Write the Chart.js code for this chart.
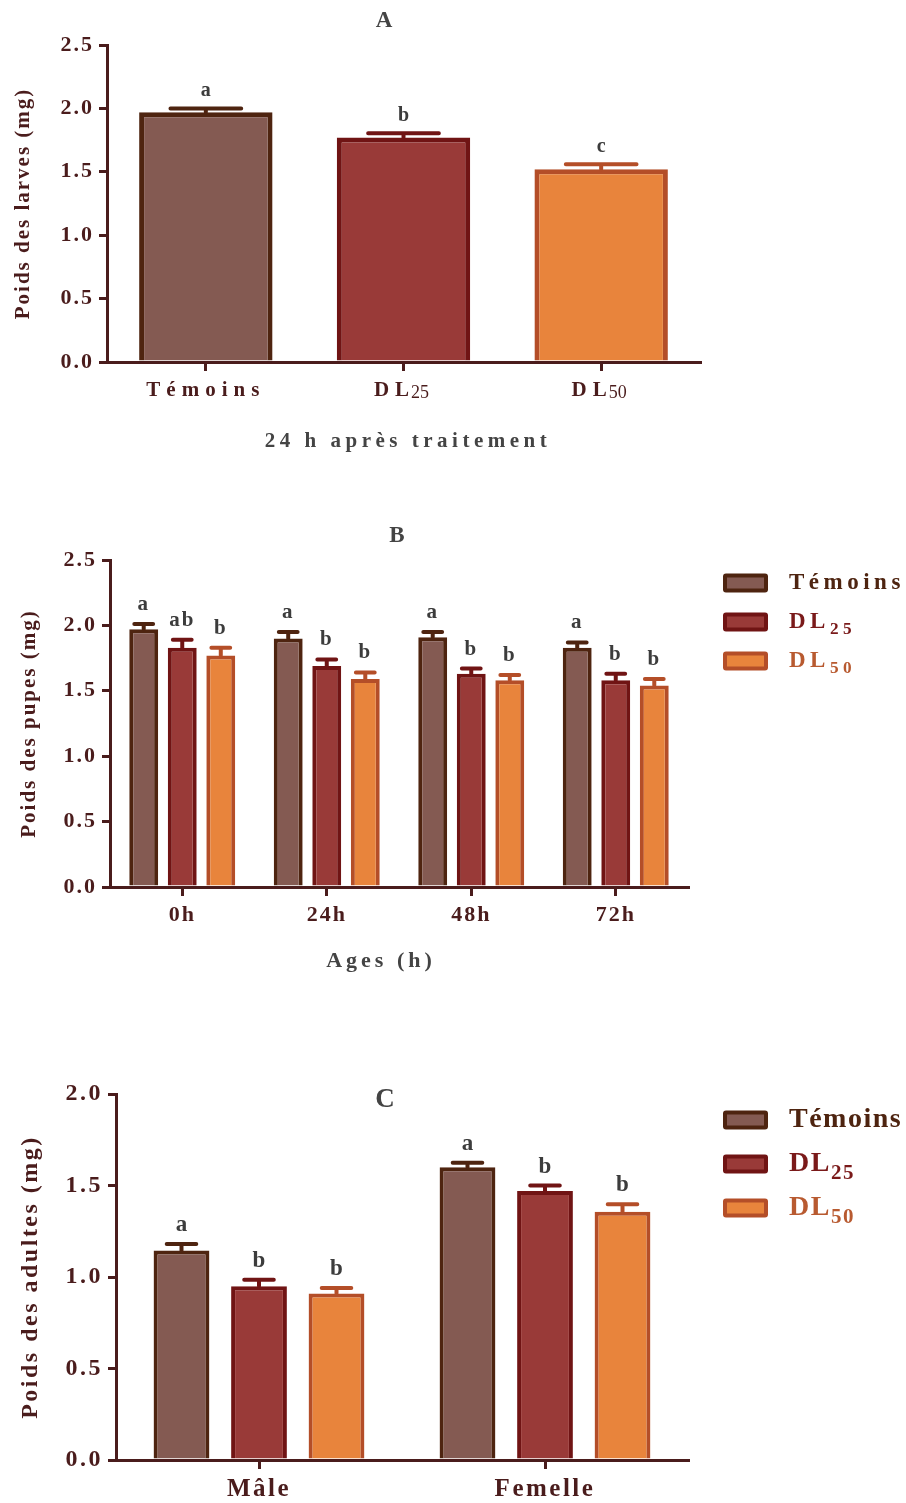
<!DOCTYPE html>
<html>
<head>
<meta charset="utf-8">
<script src="https://cdn.jsdelivr.net/npm/chart.js@4"></script>
<style>
  body { margin: 0; background: #fff; font-family: 'Liberation Serif', serif; }
  #wrap { position: relative; width: 906px; height: 1503px; overflow: hidden; }
  canvas { position: absolute; left: 0; }
  .lbl { position: absolute; font-weight: bold; white-space: nowrap; transform: translate(-50%, -50%); color: #444; }
  .leg { position: absolute; left: 723px; width: 906px; height: 0; }
  .leg .box { position: absolute; left: 0; width: 37px; height: 11px; border: 4px solid; border-radius: 3px; transform: translateY(-50%); }
  .leg .txt { position: absolute; left: 66px; font-weight: bold; white-space: nowrap; transform: translateY(-55%); }
  .leg sub { font-size: 75%; vertical-align: -0.35em; line-height: 0; }
</style>
</head>
<body>
<div id="wrap">
  <canvas id="chartA" width="906" height="470" style="top:0"></canvas>
  <canvas id="chartB" width="906" height="500" style="top:500px"></canvas>
  <canvas id="chartC" width="906" height="443" style="top:1060px"></canvas>

  <div class="lbl" style="left:384px;top:20px;font-size:23px">A</div>
  <div class="lbl" style="left:408px;top:440px;font-size:21px;letter-spacing:4.5px">24 h après traitement</div>
  <div class="lbl" style="left:381px;top:960px;font-size:22px;letter-spacing:4px">Ages (h)</div>
  <div class="lbl" style="left:397px;top:535px;font-size:23px">B</div>
  <div class="lbl" style="left:385px;top:1098px;font-size:27px">C</div>

  <div id="legendB"></div>
  <div id="legendC"></div>
</div>

<script>
// panel A : larves, 24 h après traitement
const groupsA = ['Témoins', 'DL25', 'DL50'];
const meansA = [1.97, 1.77, 1.52];
const errA = [0.03, 0.035, 0.04];
const lettersA = ['a', 'b', 'c'];

// panel B : pupes selon l'âge
const agesB = ['0h', '24h', '48h', '72h'];
const temoinsB = [1.97, 1.90, 1.91, 1.83];
const temoinsErrB = [0.04, 0.05, 0.04, 0.04];
const dl25B = [1.83, 1.69, 1.63, 1.58];
const dl25ErrB = [0.06, 0.05, 0.04, 0.05];
const dl50B = [1.77, 1.59, 1.58, 1.54];
const dl50ErrB = [0.06, 0.05, 0.04, 0.05];
const temoinsLettersB = ['a', 'a', 'a', 'a'];
const dl25LettersB = ['ab', 'b', 'b', 'b'];
const dl50LettersB = ['b', 'b', 'b', 'b'];

// panel C : adultes
const sexesC = ['Mâle', 'Femelle'];
const temoinsC = [1.145, 1.60];
const temoinsErrC = [0.035, 0.025];
const dl25C = [0.95, 1.47];
const dl25ErrC = [0.035, 0.03];
const dl50C = [0.91, 1.357];
const dl50ErrC = [0.03, 0.04];
const temoinsLettersC = ['a', 'a'];
const dl25LettersC = ['b', 'b'];
const dl50LettersC = ['b', 'b'];

const seriesNames = ['Témoins', 'DL25', 'DL50'];

const axisColor = '#4a1c1c';
const fills = ['#845a52', '#993a38', '#e8843c'];
const borders = ['#4e2410', '#701414', '#b44e28'];
const legendText = ['#4e2410', '#7a1a1a', '#b85a30'];
const serif = "'Liberation Serif', serif";

// splits "DL25" -> ["DL", "25"]
function splitSub(s) {
  const m = s.match(/^(.*?)(\d+)$/);
  return m ? [m[1], m[2]] : [s, ''];
}

// espacement des lettres pour tous les textes du graphique
const textSpacing = {
  id: 'textSpacing',
  beforeDraw(chart, args, opts) {
    chart.ctx.letterSpacing = opts.spacing || '0px';
  }
};

// barres d'erreur + lettres de significativité
const errorBars = {
  id: 'errorBars',
  afterDatasetsDraw(chart, args, opts) {
    const ctx = chart.ctx;
    const y = chart.scales.y;
    chart.data.datasets.forEach((ds, di) => {
      const meta = chart.getDatasetMeta(di);
      meta.data.forEach((bar, i) => {
        const color = Array.isArray(ds.borderColor) ? ds.borderColor[i] : ds.borderColor;
        const top = y.getPixelForValue(ds.data[i]);
        const capY = y.getPixelForValue(ds.data[i] + opts.errors[di][i]);
        const half = bar.width * opts.capFrac / 2;
        ctx.save();
        ctx.strokeStyle = color;
        ctx.lineWidth = opts.lineWidth;
        ctx.lineCap = 'round';
        ctx.beginPath();
        ctx.moveTo(bar.x, top);
        ctx.lineTo(bar.x, capY);
        ctx.moveTo(bar.x - half, capY);
        ctx.lineTo(bar.x + half, capY);
        ctx.stroke();
        ctx.fillStyle = '#3c3c3c';
        ctx.font = opts.letterFont;
        ctx.textAlign = 'center';
        ctx.textBaseline = 'alphabetic';
        ctx.letterSpacing = opts.letterSpacing || '0px';
        ctx.fillText(opts.letters[di][i], bar.x, capY - opts.letterGap);
        ctx.restore();
      });
    });
  }
};

// étiquettes de l'axe x du panel A (espacées, indices)
const spacedTicks = {
  id: 'spacedTicks',
  afterDraw(chart, args, opts) {
    if (!opts.enabled) return;
    const ctx = chart.ctx;
    const x = chart.scales.x;
    chart.data.labels.forEach((lab, i) => {
      const [main, sub] = splitSub(lab);
      ctx.save();
      ctx.fillStyle = axisColor;
      ctx.textBaseline = 'alphabetic';
      ctx.textAlign = 'left';
      ctx.font = 'bold 21px ' + serif;
      ctx.letterSpacing = '6px';
      const w1 = ctx.measureText(main).width;
      ctx.font = '18px ' + serif;
      ctx.letterSpacing = '0px';
      const w2 = sub ? ctx.measureText(sub).width : 0;
      const cx = x.getPixelForValue(i);
      const left = cx - (w1 + w2) / 2;
      const base = x.bottom - x.height + opts.offset;
      ctx.font = 'bold 21px ' + serif;
      ctx.letterSpacing = '6px';
      ctx.fillText(main, left, base);
      if (sub) {
        ctx.font = '18px ' + serif;
        ctx.letterSpacing = '0px';
        ctx.fillText(sub, left + w1 - 4, base + 2);
      }
      ctx.restore();
    });
  }
};

function yAxis(max, width, fontSize, title, titleSize, titlePad) {
  return {
    min: 0, max: max,
    ticks: {
      stepSize: 0.5, color: axisColor, padding: 5,
      font: { family: serif, size: fontSize, weight: 'bold' },
      callback: v => v.toFixed(1)
    },
    grid: { drawOnChartArea: false, drawTicks: true, tickLength: 8, color: axisColor, lineWidth: 3 },
    border: { display: true, color: axisColor, width: 3 },
    title: {
      display: true, text: title, color: axisColor,
      font: { family: serif, size: titleSize, weight: 'bold' },
      padding: { top: titlePad, bottom: 0 }
    },
    afterFit: s => { s.width = width; }
  };
}

function xAxis(height, fontSize, showLabels) {
  return {
    offset: true,
    ticks: {
      display: showLabels, color: axisColor, padding: 6,
      font: { family: serif, size: fontSize, weight: 'bold' }
    },
    grid: { offset: false, drawOnChartArea: false, drawTicks: true, tickLength: 9, color: axisColor, lineWidth: 3 },
    border: { display: true, color: axisColor, width: 3 },
    afterFit: s => { s.height = height; }
  };
}

// --- panel A
new Chart(document.getElementById('chartA'), {
  type: 'bar',
  data: {
    labels: groupsA,
    datasets: [{
      data: meansA,
      backgroundColor: fills,
      borderColor: borders,
      borderWidth: 5,
      categoryPercentage: 1,
      barPercentage: 0.675
    }]
  },
  options: {
    responsive: false,
    animation: false,
    layout: { padding: { top: 45, right: 206, bottom: 48, left: 0 } },
    plugins: {
      legend: { display: false },
      tooltip: { enabled: false },
      textSpacing: { spacing: '2px' },
      errorBars: { errors: [errA], letters: [lettersA], capFrac: 0.53, lineWidth: 4, letterFont: 'bold 20px ' + serif, letterGap: 12 },
      spacedTicks: { enabled: true, offset: 34 }
    },
    scales: {
      x: xAxis(60, 21, false),
      y: yAxis(2.5, 107, 22, 'Poids des larves (mg)', 21, 11)
    }
  },
  plugins: [textSpacing, errorBars, spacedTicks]
});

function groupedDatasets(series) {
  return series.map((d, k) => ({
    label: seriesNames[k],
    data: d,
    backgroundColor: fills[k],
    borderColor: borders[k],
    borderWidth: 4
  }));
}

// --- panel B
new Chart(document.getElementById('chartB'), {
  type: 'bar',
  data: {
    labels: agesB,
    datasets: groupedDatasets([temoinsB, dl25B, dl50B]).map(d => Object.assign(d, { categoryPercentage: 0.8, barPercentage: 0.75 }))
  },
  options: {
    responsive: false,
    animation: false,
    layout: { padding: { top: 60, right: 218, bottom: 63, left: 0 } },
    plugins: {
      legend: { display: false },
      tooltip: { enabled: false },
      textSpacing: { spacing: '2px' },
      errorBars: {
        errors: [temoinsErrB, dl25ErrB, dl50ErrB],
        letters: [temoinsLettersB, dl25LettersB, dl50LettersB],
        capFrac: 0.65, lineWidth: 4, letterFont: 'bold 21px ' + serif, letterGap: 14, letterSpacing: '2px'
      },
      spacedTicks: { enabled: false }
    },
    scales: {
      x: xAxis(50, 22, true),
      y: yAxis(2.5, 110, 22, 'Poids des pupes (mg)', 21, 17)
    }
  },
  plugins: [textSpacing, errorBars, spacedTicks]
});

// --- panel C
new Chart(document.getElementById('chartC'), {
  type: 'bar',
  data: {
    labels: sexesC,
    datasets: groupedDatasets([temoinsC, dl25C, dl50C]).map(d => Object.assign(d, { categoryPercentage: 0.813, barPercentage: 0.72 }))
  },
  options: {
    responsive: false,
    animation: false,
    layout: { padding: { top: 34, right: 218, bottom: 0, left: 0 } },
    plugins: {
      legend: { display: false },
      tooltip: { enabled: false },
      textSpacing: { spacing: '2.5px' },
      errorBars: {
        errors: [temoinsErrC, dl25ErrC, dl50ErrC],
        letters: [temoinsLettersC, dl25LettersC, dl50LettersC],
        capFrac: 0.53, lineWidth: 4, letterFont: 'bold 23px ' + serif, letterGap: 13
      },
      spacedTicks: { enabled: false }
    },
    scales: {
      x: xAxis(43, 25, true),
      y: yAxis(2.0, 116, 24, 'Poids des adultes (mg)', 24, 16)
    }
  },
  plugins: [textSpacing, errorBars, spacedTicks]
});

// légendes HTML (indices)
function buildLegend(id, top, gap, size, spacing) {
  const el = document.getElementById(id);
  seriesNames.forEach((name, k) => {
    const [main, sub] = splitSub(name);
    const row = document.createElement('div');
    row.className = 'leg';
    row.style.top = (top + k * gap) + 'px';
    row.innerHTML = `<div class="box" style="background:${fills[k]};border-color:${borders[k]}"></div>` +
      `<div class="txt" style="color:${legendText[k]};font-size:${size}px;letter-spacing:${spacing}px">${main}${sub ? '<sub>' + sub + '</sub>' : ''}</div>`;
    el.appendChild(row);
  });
}
buildLegend('legendB', 583, 39, 23, 4.5);
buildLegend('legendC', 1120, 44, 28, 1.5);
</script>
</body>
</html>
